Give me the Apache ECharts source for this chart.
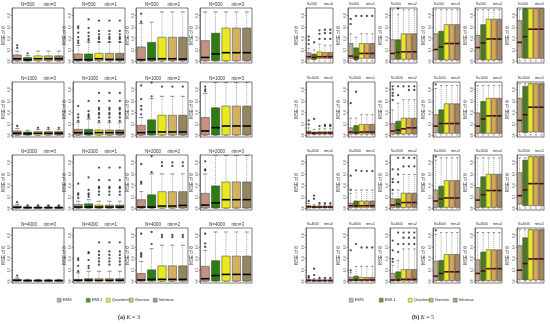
<!DOCTYPE html>
<html><head><meta charset="utf-8">
<script src="https://cdn.jsdelivr.net/npm/echarts@6/dist/echarts.min.js"></script>
<style>html,body{margin:0;padding:0;background:#fff}#c{width:550px;height:324px}</style>
</head><body><div id="c"></div><script>
const methods = ['EMS','EML1','Quartimin','Geomin','Infomax'];
const sizesA = [500,1000,2000,4000];
const nimA = [0,1,2,3];
const nimB = [0,1,2,3,4,5];
const yTicks = [0,0.2,0.4,0.6,0.8];
// each box: [min, q1, median, q3, max]; order of boxes = methods
// (a) K = 3
const boxA_500 = [
 [[0,.01,.044,.111,.178],[0,.006,.028,.067,.1],[0,.01,.044,.095,.178],[0,.01,.044,.095,.178],[0,.01,.044,.095,.178]],
 [[0,.008,.028,.128,.278],[0,.008,.028,.128,.33],[0,.01,.044,.139,.33],[0,.01,.033,.139,.33],[0,.01,.033,.139,.33]],
 [[0,.008,.028,.25,.66],[0,.008,.044,.33,.68],[0,.01,.044,.42,.86],[0,.01,.044,.42,.86],[0,.01,.039,.42,.86]],
 [[0,.01,.067,.36,.86],[0,.01,.128,.49,.86],[0,.01,.15,.58,.86],[0,.01,.15,.58,.86],[0,.01,.15,.58,.86]]
];
const outA_500 = [
 [[.233,.278],[.139],[],[],[]],
 [[.32,.36,.42,.5,.58,.61],[.36,.39,.44,.5,.58,.73],[.34,.39,.42,.47,.53,.71],[.34,.39,.42,.47,.53,.71],[.34,.39,.42,.47,.53,.71]],
 [[.69,.83],[],[],[],[]],
 [[],[],[],[],[]]
];
const boxA_1000 = [
 [[0,.005,.035,.075,.116],[0,.005,.029,.058,.087],[0,.005,.035,.064,.1],[0,.005,.035,.064,.1],[0,.005,.035,.064,.1]],
 [[0,.005,.046,.104,.22],[0,.005,.035,.104,.28],[0,.005,.046,.093,.22],[0,.005,.046,.093,.22],[0,.005,.046,.093,.22]],
 [[0,.005,.046,.174,.31],[0,.005,.058,.27,.64],[0,.005,.058,.35,.68],[0,.005,.058,.35,.68],[0,.005,.058,.35,.68]],
 [[0,.005,.075,.31,.73],[0,.005,.133,.48,.92],[0,.005,.162,.51,.92],[0,.005,.162,.51,.92],[0,.005,.162,.51,.92]]
];
const outA_1000 = [
 [[.162],[],[.13],[.13],[.13]],
 [[.25,.31,.365,.51],[.31,.34,.365,.42,.6],[.25,.31,.365,.39,.45,.48,.6,.74],[.25,.31,.365,.39,.45,.48,.6,.74],[.25,.31,.365,.39,.45,.48,.6,.74]],
 [[.365,.45,.51,.63,.87],[.68,.92],[.85],[.85],[.85]],
 [[.77,.8,.85],[],[],[],[]]
];
const boxA_2000 = [
 [[0,.004,.017,.039,.067],[0,.003,.011,.022,.039],[0,.003,.011,.022,.039],[0,.003,.011,.022,.039],[0,.003,.011,.022,.039]],
 [[0,.005,.022,.067,.123],[0,.005,.022,.078,.15],[0,.005,.022,.056,.123],[0,.005,.022,.056,.123],[0,.005,.022,.056,.123]],
 [[0,.005,.022,.15,.29],[0,.005,.022,.235,.6],[0,.005,.039,.29,.6],[0,.005,.039,.29,.6],[0,.005,.05,.29,.6]],
 [[0,.005,.056,.26,.6],[0,.005,.095,.39,.92],[0,.005,.15,.46,.92],[0,.005,.15,.46,.92],[0,.005,.15,.46,.92]]
];
const outA_2000 = [
 [[.106],[.05],[.05],[.05],[.05]],
 [[.18,.235,.26,.43],[.2,.235,.26,.32,.54],[.235,.29,.35,.375,.49,.71],[.235,.29,.35,.375,.49,.71],[.235,.29,.35,.375,.49,.71]],
 [[.43,.46,.77],[.63,.91],[.74,.8],[.74,.8],[.74,.8]],
 [[.66,.68,.82],[],[],[],[]]
];
const boxA_4000 = [
 [[0,.004,.017,.034,.06],[0,.003,.012,.023,.034],[0,.003,.012,.023,.034],[0,.003,.012,.023,.034],[0,.003,.012,.023,.034]],
 [[0,.004,.017,.034,.147],[0,.004,.017,.045,.175],[0,.004,.017,.045,.175],[0,.004,.017,.045,.175],[0,.004,.017,.045,.175]],
 [[0,.004,.023,.136,.345],[0,.004,.034,.2,.57],[0,.004,.034,.27,.63],[0,.004,.034,.27,.63],[0,.004,.034,.27,.63]],
 [[0,.004,.045,.26,.54],[0,.004,.1,.36,.86],[0,.004,.12,.44,.86],[0,.004,.12,.44,.86],[0,.004,.12,.44,.86]]
];
const outA_4000 = [
 [[.1],[],[],[],[]],
 [[.175,.27,.37,.4],[.23,.27,.37,.49,.51],[.29,.345,.4,.46,.52,.68],[.29,.345,.4,.46,.52,.68],[.29,.345,.4,.46,.52,.68]],
 [[.43,.46,.49,.83],[.65,.86],[.77,.81],[.77,.81],[.77,.81]],
 [[.6,.66,.83],[],[],[],[]]
];
// (b) K = 5
const boxB_500 = [
 [[.005,.04,.08,.148,.22],[.005,.03,.068,.125,.2],[.005,.05,.08,.165,.3],[.005,.05,.08,.154,.28],[.005,.05,.08,.154,.28]],
 [[.005,.051,.091,.31,.48],[.005,.023,.068,.234,.42],[.005,.051,.137,.31,.48],[.005,.051,.137,.31,.48],[.005,.051,.137,.31,.48]],
 [[.005,.034,.137,.376,.9],[.005,.034,.154,.376,.82],[.005,.034,.165,.48,.9],[.005,.034,.165,.48,.9],[.005,.034,.165,.48,.9]],
 [[.005,.034,.205,.48,.9],[.005,.023,.25,.524,.9],[.005,.023,.31,.64,.9],[.005,.023,.31,.64,.9],[.005,.023,.31,.64,.9]],
 [[.005,.034,.24,.45,.9],[.005,.023,.32,.64,.9],[.005,.023,.39,.735,.9],[.005,.023,.39,.735,.9],[.005,.023,.39,.735,.9]],
 [[.005,.068,.33,.71,.9],[.005,.051,.43,.92,.92],[.005,.051,.56,.92,.92],[.005,.051,.56,.92,.92],[.005,.051,.56,.92,.92]]
];
const outB_500 = [
 [[.3,.37,.43],[.33],[.39,.48,.54],[.39,.49,.55],[.39,.49,.55]],
 [[.65,.74],[.79],[.79],[.79],[.79]],
 [[],[.92],[],[],[]],
 [[],[],[],[],[]],
 [[],[],[],[],[]],
 [[],[],[],[],[]]
];
const boxB_1000 = [
 [[.005,.023,.046,.074,.13],[.005,.02,.034,.057,.1],[.005,.02,.04,.063,.114],[.005,.02,.04,.063,.114],[.005,.02,.04,.063,.114]],
 [[.005,.023,.057,.13,.3],[.005,.023,.046,.17,.3],[.005,.023,.057,.19,.36],[.005,.023,.057,.19,.36],[.005,.023,.057,.19,.36]],
 [[.005,.023,.074,.205,.44],[.005,.023,.09,.245,.56],[.005,.023,.114,.3,.62],[.005,.023,.13,.3,.62],[.005,.023,.13,.3,.62]],
 [[.005,.046,.16,.36,.815],[.005,.034,.205,.445,.87],[.005,.034,.205,.55,.87],[.005,.034,.205,.55,.87],[.005,.034,.205,.55,.87]],
 [[.005,.034,.16,.39,.87],[.005,.034,.285,.59,.87],[.005,.034,.34,.645,.87],[.005,.034,.34,.645,.87],[.005,.034,.34,.645,.87]],
 [[.005,.057,.26,.645,.9],[.005,.046,.36,.855,.9],[.005,.057,.49,.9,.9],[.005,.057,.49,.9,.9],[.005,.057,.49,.9,.9]]
];
const outB_1000 = [
 [[.19,.26],[.285],[.16],[.16,.18],[.16,.18]],
 [[.56],[.76],[],[],[]],
 [[.616,.69,.74,.8,.855],[.7,.855],[.855],[.79,.855],[.79,.855]],
 [[.89],[],[],[],[]],
 [[],[],[],[],[]],
 [[],[],[],[],[]]
];
const boxB_2000 = [
 [[.003,.01,.028,.044,.083],[.003,.01,.022,.04,.07],[.003,.01,.022,.04,.07],[.003,.01,.022,.04,.07],[.003,.01,.022,.04,.07]],
 [[.003,.016,.044,.088,.26],[.003,.016,.044,.127,.32],[.003,.016,.044,.127,.32],[.003,.016,.044,.127,.32],[.003,.016,.044,.127,.32]],
 [[.003,.016,.055,.165,.264],[.003,.016,.072,.165,.32],[.003,.016,.1,.264,.59],[.003,.016,.1,.264,.59],[.003,.016,.1,.264,.59]],
 [[.003,.016,.127,.32,.84],[.003,.016,.165,.385,.88],[.003,.016,.18,.484,.88],[.003,.016,.18,.484,.88],[.003,.016,.18,.484,.88]],
 [[.003,.016,.143,.363,.88],[.003,.016,.237,.55,.88],[.003,.016,.31,.594,.88],[.003,.016,.31,.594,.88],[.003,.016,.31,.594,.88]],
 [[.003,.072,.22,.62,.88],[.003,.044,.32,.84,.88],[.003,.044,.43,.9,.9],[.003,.044,.43,.9,.9],[.003,.044,.43,.9,.9]]
];
const outB_2000 = [
 [[.127],[.165,.22],[.088],[.088],[.088]],
 [[.32,.57],[.66],[.65],[.65],[.65]],
 [[.32,.456,.51,.68],[.456,.59,.68,.88],[.73,.88],[.73,.88],[.73,.88]],
 [[.9],[],[],[],[]],
 [[],[],[],[],[]],
 [[],[],[],[],[]]
];
const boxB_4000 = [
 [[.002,.005,.015,.03,.06],[.002,.005,.012,.025,.05],[.002,.005,.012,.025,.045],[.002,.005,.012,.025,.045],[.002,.005,.012,.025,.045]],
 [[.002,.006,.023,.068,.15],[.002,.006,.023,.09,.26],[.002,.006,.023,.068,.26],[.002,.006,.023,.068,.26],[.002,.006,.023,.068,.26]],
 [[.002,.006,.023,.137,.28],[.002,.006,.023,.165,.365],[.002,.006,.034,.205,.565],[.002,.006,.034,.205,.565],[.002,.006,.034,.205,.565]],
 [[.002,.011,.09,.35,.82],[.002,.011,.137,.365,.85],[.002,.011,.165,.467,.85],[.002,.011,.165,.467,.85],[.002,.011,.165,.467,.85]],
 [[.002,.011,.137,.376,.85],[.002,.011,.18,.51,.85],[.002,.011,.22,.55,.85],[.002,.011,.22,.55,.85],[.002,.011,.22,.55,.85]],
 [[.002,.034,.194,.62,.9],[.002,.023,.31,.76,.9],[.002,.023,.39,.9,.9],[.002,.023,.39,.9,.9],[.002,.023,.39,.9,.9]]
];
const outB_4000 = [
 [[.068,.09],[.108,.22],[.06],[.06],[.06]],
 [[.19,.54],[.65],[.59],[.59],[.59]],
 [[.34,.39,.54,.71],[.51,.65,.85],[.65,.76,.85],[.65,.76,.85],[.65,.76,.85]],
 [[.89],[],[],[],[]],
 [[],[],[],[],[]],
 [[],[],[],[],[]]
];

const colA = ['#c4937f','#2f7d12','#e8e81e','#d2b262','#948660'];
const colB = ['#bca78f','#4b7c16','#e4e826','#d9a655','#a5865f'];

const boxesA = [boxA_500, boxA_1000, boxA_2000, boxA_4000];
const outsA = [outA_500, outA_1000, outA_2000, outA_4000];
const boxesB = [boxB_500, boxB_1000, boxB_2000, boxB_4000];
const outsB = [outB_500, outB_1000, outB_2000, outB_4000];

// layout
const rowTops = [8, 82, 155, 228];
const plotH = 55;
const leftsA = [12, 73, 136, 200], widthA = 52;
const leftsB = [306, 348, 390, 433, 475, 517], widthB = 27;
const FONT = 'Liberation Sans, Arial, sans-serif';

const grids = [], xAxes = [], yAxes = [], series = [], graphics = [];

function renderFactory(colors, medColor, whiskColor, frac, medW) {
  return function (params, api) {
    const i = api.value(0);
    const mn = api.value(1), q1 = api.value(2), md = api.value(3), q3 = api.value(4), mx = api.value(5);
    const x = api.coord([i, md])[0];
    const band = api.size([1, 0])[0];
    const hw = band * frac / 2;
    const Y = v => api.coord([i, v])[1];
    const cs = params.coordSys;
    const dash = {stroke: whiskColor, lineWidth: 0.6, lineDash: [1, 1]};
    return {
      type: 'group',
      clipPath: {type: 'rect', shape: {x: cs.x, y: cs.y, width: cs.width, height: cs.height}},
      children: [
        {type: 'line', shape: {x1: x, y1: Y(q3), x2: x, y2: Y(mx)}, style: dash},
        {type: 'line', shape: {x1: x, y1: Y(q1), x2: x, y2: Y(mn)}, style: dash},
        {type: 'line', shape: {x1: x - hw / 2, y1: Y(mx), x2: x + hw / 2, y2: Y(mx)}, style: {stroke: '#444', lineWidth: 0.6}},
        {type: 'line', shape: {x1: x - hw / 2, y1: Y(mn), x2: x + hw / 2, y2: Y(mn)}, style: {stroke: '#c05a78', lineWidth: 0.7}},
        {type: 'rect', shape: {x: x - hw, y: Y(q3), width: hw * 2, height: Y(q1) - Y(q3)}, style: {fill: colors[i], stroke: '#3a3a3a', lineWidth: 0.5}},
        {type: 'line', shape: {x1: x - hw, y1: Y(md), x2: x + hw, y2: Y(md)}, style: {stroke: medColor, lineWidth: medW}}
      ]
    };
  };
}

function addPanel(left, top, width, boxes, outs, colors, nameGap, medColor, frac, nText, nimText, tFont, nOff, nimOff) {
  const g = grids.length;
  grids.push({left: left, top: top, width: width, height: plotH, show: true, borderColor: '#444', borderWidth: 0.7, containLabel: false});
  xAxes.push({type: 'category', gridIndex: g, data: methods, boundaryGap: true,
    axisLine: {show: false}, axisTick: {show: false}, axisLabel: {show: false}, splitLine: {show: false}});
  yAxes.push({type: 'value', gridIndex: g, min: -0.03, max: 0.93,
    axisLine: {show: true, lineStyle: {color: '#444', width: 0.6}},
    axisTick: {show: true, length: 1.5, customValues: yTicks, lineStyle: {color: '#444', width: 0.5}},
    axisLabel: {customValues: yTicks, fontSize: 3, rotate: 90, margin: 1.5, color: '#444', fontFamily: FONT,
      formatter: v => v.toFixed(1)},
    splitLine: {show: false},
    name: 'MSE of θ', nameLocation: 'middle', nameGap: nameGap,
    nameTextStyle: {fontSize: 4.5, color: '#333', fontFamily: FONT}});
  series.push({type: 'custom', xAxisIndex: g, yAxisIndex: g, silent: true, animation: false,
    data: boxes.map((b, i) => [i, b[0], b[1], b[2], b[3], b[4]]),
    encode: {x: 0, y: [1, 2, 3, 4, 5]},
    renderItem: renderFactory(colors, medColor, '#6a6a6a', frac, 1.6)});
  const pts = [];
  outs.forEach((arr, i) => arr.forEach(v => pts.push([i, v])));
  series.push({type: 'scatter', xAxisIndex: g, yAxisIndex: g, silent: true, animation: false,
    data: pts, symbol: 'circle', symbolSize: 2.3, itemStyle: {color: '#222'}});
  graphics.push({type: 'text', x: left + nOff, y: top - 3.5, silent: true,
    style: {text: nText, font: tFont + 'px ' + FONT, fill: '#333', align: 'left', verticalAlign: 'middle'}});
  graphics.push({type: 'text', x: left + width - nimOff, y: top - 3.5, silent: true,
    style: {text: nimText, font: tFont + 'px ' + FONT, fill: '#333', align: 'right', verticalAlign: 'middle'}});
}

sizesA.forEach((N, r) => {
  nimA.forEach((nim, c) => {
    addPanel(leftsA[c], rowTops[r], widthA, boxesA[r][c], outsA[r][c], colA, 6, '#000', 0.8,
      'N=' + N, 'nim=' + nim, 4.5, 9, 8);
  });
  nimB.forEach((nim, c) => {
    addPanel(leftsB[c], rowTops[r], widthB, boxesB[r][c], outsB[r][c], colB, 7, '#4a0c0c', 0.88,
      'N=' + N, 'nim=' + nim, 3.4, 1, 0);
  });
});

// empty named series for legends
methods.forEach(m => series.push({type: 'scatter', name: m, xAxisIndex: 0, yAxisIndex: 0, data: []}));

const legendXA = [57, 86, 106, 129, 153];
const legendXB = [349, 379, 408, 429, 453];
const legends = [];
function addLegend(xs, cols) {
  methods.forEach((m, i) => legends.push({
    data: [{name: m, itemStyle: {color: cols[i], borderColor: '#333', borderWidth: 0.4}}],
    left: xs[i], top: 298, padding: 0, icon: 'rect', itemWidth: 4, itemHeight: 4, itemGap: 0,
    selectedMode: false, textStyle: {fontSize: 4.2, color: '#333', fontFamily: FONT, padding: [0, 0, 0, -3.5]}
  }));
}
addLegend(legendXA, colA);
addLegend(legendXB, colB);

const SERIF = 'Liberation Serif, Times New Roman, serif';
graphics.push({type: 'text', x: 129, y: 317, silent: true,
  style: {text: '{b|(a)} {i|K} = 3', align: 'center', verticalAlign: 'middle', font: '6px ' + SERIF, fill: '#222',
    rich: {b: {fontWeight: 'bold', fontSize: 6, fontFamily: SERIF}, i: {fontStyle: 'italic', fontSize: 6, fontFamily: SERIF}}}});
graphics.push({type: 'text', x: 423, y: 317, silent: true,
  style: {text: '{b|(b)} {i|K} = 5', align: 'center', verticalAlign: 'middle', font: '6px ' + SERIF, fill: '#222',
    rich: {b: {fontWeight: 'bold', fontSize: 6, fontFamily: SERIF}, i: {fontStyle: 'italic', fontSize: 6, fontFamily: SERIF}}}});

const chart = echarts.init(document.getElementById('c'), null, {renderer: 'canvas'});
chart.setOption({
  animation: false,
  backgroundColor: '#fff',
  grid: grids, xAxis: xAxes, yAxis: yAxes, series: series,
  legend: legends,
  graphic: graphics
});
</script></body></html>
